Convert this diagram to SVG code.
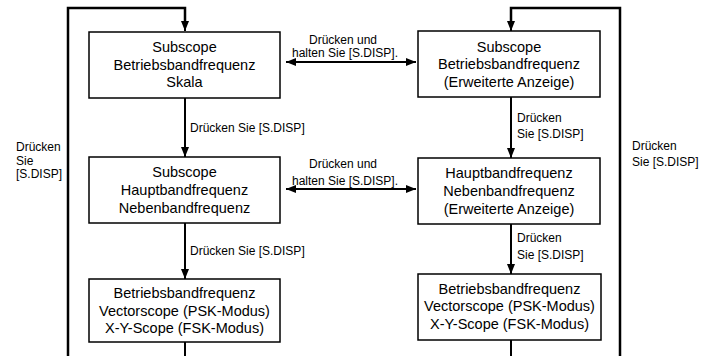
<svg xmlns="http://www.w3.org/2000/svg" width="707" height="356" viewBox="0 0 707 356">
<style>
.box{fill:#fff;stroke:#000;stroke-width:1.5}
.bt{font-family:"Liberation Sans",Arial,sans-serif;font-size:14.5px;text-anchor:middle;fill:#000}
.lb{font-family:"Liberation Sans",Arial,sans-serif;font-size:12px;fill:#000}
.lbm{font-family:"Liberation Sans",Arial,sans-serif;font-size:12px;fill:#000;text-anchor:middle}
.ln{fill:none;stroke:#000;stroke-width:2}
.lp{fill:none;stroke:#000;stroke-width:2.5}
</style>
<defs>
<marker id="ah" viewBox="0 0 10 10" refX="10" refY="5" markerWidth="10" markerHeight="10" markerUnits="userSpaceOnUse" orient="auto-start-reverse">
<path d="M0,1 L10,5 L0,9 Z" fill="#000"/>
</marker>
</defs>
<g id="connectors">
<path class="lp" d="M68,356 V8 H185 V24"/>
<path class="ln" d="M185,24 V31" marker-end="url(#ah)"/>
<path class="lp" d="M620,356 V8 H511 V24"/>
<path class="ln" d="M511,24 V31" marker-end="url(#ah)"/>
<path class="ln" d="M185,98 V157" marker-end="url(#ah)"/>
<path class="ln" d="M185,223 V279" marker-end="url(#ah)"/>
<path class="ln" d="M185,342 V356"/>
<path class="ln" d="M511,97 V158" marker-end="url(#ah)"/>
<path class="ln" d="M511,224 V274" marker-end="url(#ah)"/>
<path class="ln" d="M511,340 V356"/>
<path class="ln" d="M286,62 H416" marker-start="url(#ah)" marker-end="url(#ah)"/>
<path class="ln" d="M286,189 H416" marker-start="url(#ah)" marker-end="url(#ah)"/>
<text class="lb" x="190" y="132">Drücken Sie [S.DISP]</text>
<text class="lb" x="190" y="255">Drücken Sie [S.DISP]</text>
<text class="lb" x="517" y="122">Drücken</text>
<text class="lb" x="517" y="138">Sie [S.DISP]</text>
<text class="lb" x="517" y="242">Drücken</text>
<text class="lb" x="517" y="259">Sie [S.DISP]</text>
<text class="lbm" x="343" y="43.5">Drücken und</text>
<text class="lbm" x="345" y="57">halten Sie [S.DISP].</text>
<text class="lbm" x="343" y="168">Drücken und</text>
<text class="lbm" x="345" y="185">halten Sie [S.DISP].</text>
<text class="lb" x="16" y="151">Drücken</text>
<text class="lb" x="16" y="164.5">Sie</text>
<text class="lb" x="16" y="178">[S.DISP]</text>
<text class="lb" x="632" y="150">Drücken</text>
<text class="lb" x="632" y="166">Sie [S.DISP]</text>
</g>
<g id="n1">
<rect class="box" x="89" y="32" width="191" height="66"/>
<text class="bt" x="184.5" y="52">Subscope</text>
<text class="bt" x="184.5" y="69.5">Betriebsbandfrequenz</text>
<text class="bt" x="184.5" y="87">Skala</text>
</g>
<g id="n2">
<rect class="box" x="89" y="157" width="191" height="66"/>
<text class="bt" x="184.5" y="177">Subscope</text>
<text class="bt" x="184.5" y="195">Hauptbandfrequenz</text>
<text class="bt" x="184.5" y="213">Nebenbandfrequenz</text>
</g>
<g id="n3">
<rect class="box" x="89" y="279" width="191" height="63"/>
<text class="bt" x="184.5" y="298">Betriebsbandfrequenz</text>
<text class="bt" x="184.5" y="315.5">Vectorscope (PSK-Modus)</text>
<text class="bt" x="184.5" y="333">X-Y-Scope (FSK-Modus)</text>
</g>
<g id="n4">
<rect class="box" x="418" y="31" width="182" height="66"/>
<text class="bt" x="509" y="52">Subscope</text>
<text class="bt" x="509" y="69">Betriebsbandfrequenz</text>
<text class="bt" x="509" y="86.5">(Erweiterte Anzeige)</text>
</g>
<g id="n5">
<rect class="box" x="418" y="158" width="182" height="66"/>
<text class="bt" x="509" y="178">Hauptbandfrequenz</text>
<text class="bt" x="509" y="196">Nebenbandfrequenz</text>
<text class="bt" x="509" y="213.5">(Erweiterte Anzeige)</text>
</g>
<g id="n6">
<rect class="box" x="418" y="274" width="183" height="66"/>
<text class="bt" x="509.5" y="294">Betriebsbandfrequenz</text>
<text class="bt" x="509.5" y="311">Vectorscope (PSK-Modus)</text>
<text class="bt" x="509.5" y="328.5">X-Y-Scope (FSK-Modus)</text>
</g>
</svg>
